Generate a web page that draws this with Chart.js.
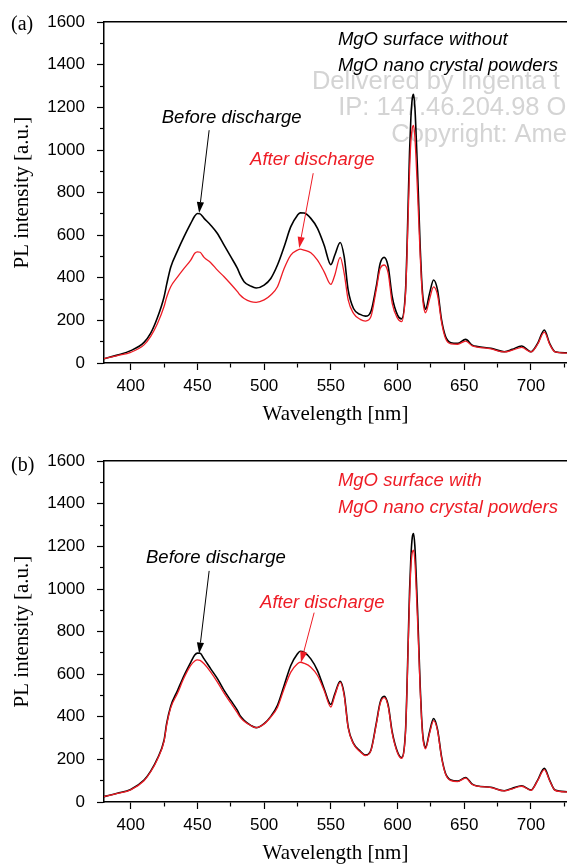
<!DOCTYPE html>
<html><head><meta charset="utf-8">
<script src="https://cdn.jsdelivr.net/npm/chart.js@4.4.1/dist/chart.umd.min.js"></script>
<style>
html,body{margin:0;padding:0;background:#fff;overflow:hidden;width:567px;height:864px;position:relative}
.panel{position:absolute;left:0;width:567px;height:438px}
.tag{position:absolute;left:11px;font:20px "Liberation Serif","Times New Roman",serif;line-height:20px;color:#000}
</style></head><body>
<div class="panel" style="top:0"><canvas id="ca" width="567" height="438"></canvas></div>
<div class="tag" style="top:13px">(a)</div>
<div class="panel" style="top:439px"><canvas id="cb" width="567" height="438"></canvas></div>
<div class="tag" style="top:454px">(b)</div>
<script>
// ---------------- data ----------------
const wavelengths = [380,390,400,410,415,420,425,427,430,435,440,445,448,450,452,455,460,465,470,475,480,482,485,490,494,500,505,510,515,520,525,527,530,535,540,545,550,553,557,560,563,567,572,576,580,584,587,590,593,596,600,603,606,607,608,609,610,611,612,613,614,615,616,617,618,619,620,621,624,627,630,633,636,640,645,651,656,660,670,680,686,693,700,705,710,714,718,727];

const beforeA = [20,37,58,97,140,212,310,370,450,525,593,655,690,702,700,679,647,608,553,499,444,415,382,361,352,366,397,460,546,640,694,705,704,679,632,553,462,507,566,499,342,256,228,220,241,358,468,496,452,311,225,207,342,520,760,990,1150,1240,1262,1200,1060,900,720,540,400,310,270,252,327,390,342,202,124,95,92,111,84,77,69,53,64,80,53,92,155,92,53,48];
const afterA  = [20,35,50,85,125,184,265,310,358,403,444,483,515,522,520,496,471,436,405,371,335,319,303,288,285,296,319,358,444,507,530,535,530,518,483,428,369,413,496,421,296,233,205,197,217,342,444,460,421,280,210,194,327,490,700,900,1040,1100,1115,1060,940,800,650,500,375,290,250,236,300,357,318,191,115,90,88,103,80,75,66,52,60,73,52,88,145,88,52,46];
const beforeB = [25,41,59,103,145,204,290,370,450,522,594,656,690,699,698,672,625,579,524,477,430,405,384,360,349,368,402,454,547,641,696,708,703,672,617,532,458,508,567,508,352,275,239,220,243,368,469,496,454,329,235,209,337,520,760,990,1150,1240,1260,1200,1060,900,720,540,400,310,270,256,330,392,340,212,134,103,98,115,84,75,69,53,64,76,56,103,158,103,56,48];
const afterB  = [25,40,57,100,142,200,285,362,442,509,583,641,662,667,665,649,610,563,511,465,418,398,379,359,349,366,399,444,532,610,649,656,651,633,594,524,446,500,562,500,348,272,236,218,240,362,462,490,448,322,230,205,330,510,740,950,1100,1170,1182,1130,1000,850,690,520,390,300,262,250,322,382,334,208,130,100,96,112,82,74,68,52,62,74,55,100,152,100,55,47];

const xMin = 380, xMax = 727, yMin = 0, yMax = 1600;
const xLabelStep = 50, xMinorStep = 25, yLabelStep = 200, yMinorStep = 100;
const xTitle = 'Wavelength [nm]';
const yTitle = 'PL intensity [a.u.]';

// annotations (text, anchor in data units)
const notesA = [
  {text:'MgO surface without', x:555.3, y:1515, c:'k'},
  {text:'MgO nano crystal powders', x:555.3, y:1393, c:'k'},
  {text:'Before discharge', x:423.3, y:1150, c:'k'},
  {text:'After discharge', x:489.5, y:952, c:'r'}
];
const arrowsA = [
  {x0:458.8, y0:1093, x1:451.3, y1:704, c:'k'},
  {x0:536.8, y0:891, x1:526.3, y1:540, c:'r'}
];
const notesB = [
  {text:'MgO surface with', x:555.3, y:1506, c:'r'},
  {text:'MgO nano crystal powders', x:555.3, y:1381, c:'r'},
  {text:'Before discharge', x:411.5, y:1148, c:'k'},
  {text:'After discharge', x:497, y:937, c:'r'}
];
const arrowsB = [
  {x0:458.8, y0:1085, x1:451.3, y1:697, c:'k'},
  {x0:537.5, y0:889, x1:527.6, y1:655, c:'r'}
];
const watermarkA = [
  {text:'Delivered by Ingenta t', x:535.8, y:1318},
  {text:'IP: 147.46.204.98 O', x:555.5, y:1196},
  {text:'Copyright: Ame', x:595.3, y:1072}
];

// ---------------- styles ----------------
const BLACK = '#000000';
const RED = '#ee1c25';
const COL = {k: BLACK, r: RED};
const SANS = '"Liberation Sans", Arial, Helvetica, sans-serif';
const SERIF = '"Liberation Serif", "Times New Roman", serif';

const annotPlugin = {
  id: 'annot',
  beforeDatasetsDraw(chart, args, o) {
    const {ctx, scales:{x, y}} = chart;
    if (!o.watermark) return;
    ctx.save();
    ctx.font = '25.5px ' + SANS;
    ctx.fillStyle = '#d4d4d4';
    ctx.textAlign = 'left';
    ctx.textBaseline = 'middle';
    o.watermark.forEach(w => ctx.fillText(w.text, x.getPixelForValue(w.x), y.getPixelForValue(w.y)));
    ctx.restore();
  },
  afterDatasetsDraw(chart, args, o) {
    const {ctx, scales:{x, y}} = chart;
    ctx.save();
    ctx.font = 'italic 18.5px ' + SANS;
    ctx.textAlign = 'left';
    ctx.textBaseline = 'middle';
    (o.notes || []).forEach(n => {
      ctx.fillStyle = COL[n.c];
      ctx.fillText(n.text, x.getPixelForValue(n.x), y.getPixelForValue(n.y));
    });
    (o.arrows || []).forEach(a => {
      const px0 = x.getPixelForValue(a.x0), py0 = y.getPixelForValue(a.y0);
      const px1 = x.getPixelForValue(a.x1), py1 = y.getPixelForValue(a.y1);
      const ang = Math.atan2(py1 - py0, px1 - px0);
      const L = 11, W = 3.6;
      const bx = px1 - L * Math.cos(ang), by = py1 - L * Math.sin(ang);
      ctx.strokeStyle = COL[a.c];
      ctx.fillStyle = COL[a.c];
      ctx.lineWidth = 1;
      ctx.beginPath();
      ctx.moveTo(px0, py0);
      ctx.lineTo(bx, by);
      ctx.stroke();
      ctx.beginPath();
      ctx.moveTo(px1, py1);
      ctx.lineTo(bx + W * Math.sin(ang), by - W * Math.cos(ang));
      ctx.lineTo(bx - W * Math.sin(ang), by + W * Math.cos(ang));
      ctx.closePath();
      ctx.fill();
    });
    ctx.restore();
  }
};

function pairs(vals) { return wavelengths.map((w, i) => ({x: w, y: vals[i]})); }

function makeChart(id, before, after, notes, arrows, watermark) {
  return new Chart(document.getElementById(id), {
    type: 'line',
    data: {
      datasets: [
        {label: 'After discharge', data: pairs(after), borderColor: RED, borderWidth: 1.3, pointRadius: 0, cubicInterpolationMode: 'monotone', fill: false},
        {label: 'Before discharge', data: pairs(before), borderColor: BLACK, borderWidth: 1.6, pointRadius: 0, cubicInterpolationMode: 'monotone', fill: false}
      ]
    },
    options: {
      responsive: false,
      animation: false,
      devicePixelRatio: 1,
      layout: {padding: {top: 22, left: 0, right: 0, bottom: 0}},
      plugins: {
        legend: {display: false},
        tooltip: {enabled: false},
        annot: {notes, arrows, watermark}
      },
      scales: {
        x: {
          type: 'linear', position: 'bottom', min: xMin, max: xMax,
          afterFit: s => { s.height = 75; s.paddingRight = 0; s.paddingLeft = 0; },
          border: {color: BLACK, width: 1.5},
          grid: {drawOnChartArea: false, color: BLACK, tickColor: BLACK, tickLength: 7, tickWidth: 1.2,
                 tickBorderDash: c => (c.tick && c.tick.value % xLabelStep === 0) ? [] : [4, 20]},
          ticks: {stepSize: xMinorStep, includeBounds: false, autoSkip: false, maxRotation: 0, padding: 6,
                  color: BLACK, font: {size: 17, family: SANS},
                  callback: v => (v % xLabelStep === 0 ? String(v) : '')},
          title: {display: true, text: xTitle, color: BLACK, font: {size: 21, family: SERIF}, padding: {top: 0, bottom: 11}}
        },
        xTop: {
          type: 'linear', position: 'top', min: xMin, max: xMax,
          afterFit: s => { s.height = 0; s.paddingRight = 0; s.paddingLeft = 0; },
          border: {color: BLACK, width: 1.5},
          grid: {drawOnChartArea: false, drawTicks: false},
          ticks: {display: false}
        },
        y: {
          type: 'linear', position: 'left', min: yMin, max: yMax,
          afterFit: s => { s.width = 104; },
          border: {color: BLACK, width: 1.5},
          grid: {drawOnChartArea: false, color: BLACK, tickColor: BLACK, tickLength: 7, tickWidth: 1.2,
                 tickBorderDash: c => (c.tick && c.tick.value % yLabelStep === 0) ? [] : [4, 3],
                 tickBorderDashOffset: c => (c.tick && c.tick.value % yLabelStep === 0) ? 0 : 4},
          ticks: {stepSize: yMinorStep, autoSkip: false, padding: 12, color: BLACK, font: {size: 17, family: SANS},
                  callback: v => (v % yLabelStep === 0 ? String(v) : '')},
          title: {display: true, text: yTitle, color: BLACK, font: {size: 21, family: SERIF}, padding: {top: 10, bottom: 0}}
        }
      }
    },
    plugins: [annotPlugin]
  });
}

makeChart('ca', beforeA, afterA, notesA, arrowsA, watermarkA);
makeChart('cb', beforeB, afterB, notesB, arrowsB, null);
</script>
</body></html>
